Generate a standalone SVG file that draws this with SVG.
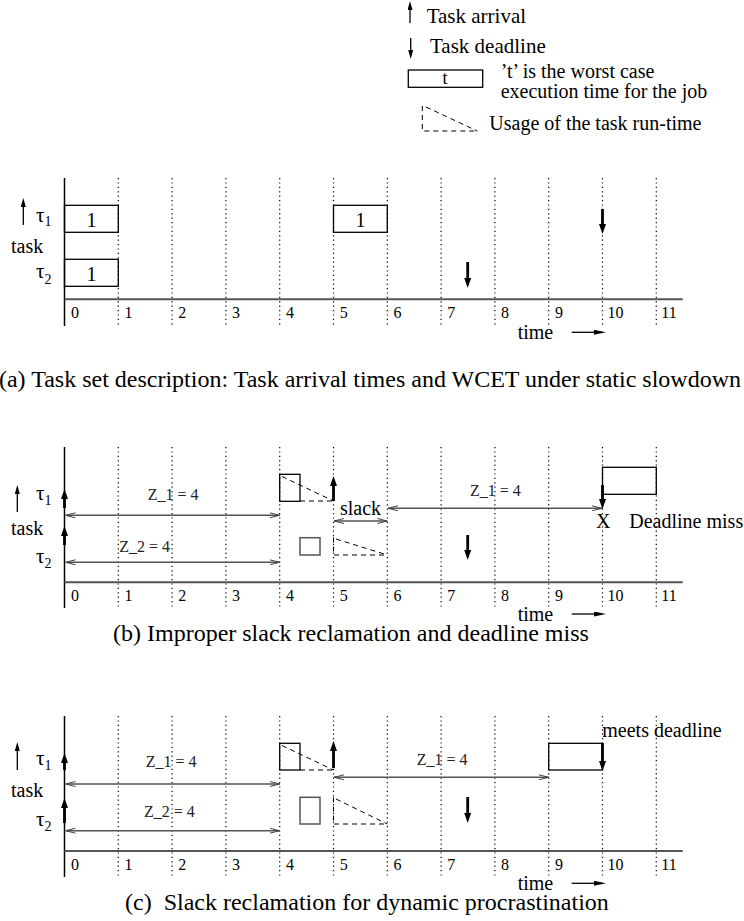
<svg xmlns="http://www.w3.org/2000/svg" width="744" height="921" viewBox="0 0 744 921">
<style>
text{font-family:"Liberation Serif","Times New Roman",serif;fill:#000}
.lg{font-size:21px}
.lg2{font-size:20px}
.cap{font-size:24px;white-space:pre}
.tick{font-size:16px}
.lbl{font-size:20px}
.z{font-size:16px;fill:#222}
.tau{font-size:21px}
.sub{font-size:14px}
.box{fill:none;stroke:#000;stroke-width:1.3}
.gbox{fill:none;stroke:#555;stroke-width:1.5}
.dash{fill:none;stroke:#000;stroke-width:1;stroke-dasharray:5,4}
.grid{stroke:#000;stroke-width:1.2;stroke-dasharray:1.2,3.2}
.yax{stroke:#000;stroke-width:1.5}
.xax{stroke:#555;stroke-width:2}
.big{stroke:#000;stroke-width:2.8;marker-end:url(#head)}
.thin{stroke:#000;stroke-width:1.3;marker-end:url(#headS)}
.tarr{stroke:#000;stroke-width:1.3;marker-end:url(#headT)}
.dbl{stroke:#555;stroke-width:1.5;marker-start:url(#open);marker-end:url(#open)}
</style>
<defs>
<marker id="head" markerUnits="userSpaceOnUse" viewBox="0 0 10 7" refX="3" refY="3.5" markerWidth="10" markerHeight="7" orient="auto"><path d="M0,0 L10,3.5 L0,7 z" fill="#000"/></marker>
<marker id="headS" markerUnits="userSpaceOnUse" viewBox="0 0 9 5" refX="3" refY="2.5" markerWidth="9" markerHeight="5" orient="auto"><path d="M0,0 L9,2.5 L0,5 z" fill="#000"/></marker>
<marker id="headT" markerUnits="userSpaceOnUse" viewBox="0 0 12 5" refX="3" refY="2.5" markerWidth="12" markerHeight="5" orient="auto"><path d="M0,0 L12,2.5 L0,5 z" fill="#000"/></marker>
<marker id="open" markerUnits="userSpaceOnUse" viewBox="0 0 10 6" refX="10" refY="3" markerWidth="10" markerHeight="6" orient="auto-start-reverse"><path d="M0,0.5 L10,3 L0,5.5" fill="none" stroke="#444" stroke-width="1"/></marker>
</defs>

<!-- Legend -->
<g id="legend">
  <g id="leg-arrival"><line class="thin" x1="410" y1="23" x2="410" y2="7"/><text class="lg" x="426.7" y="22.7">Task arrival</text></g>
  <g id="leg-deadline"><line class="thin" x1="410.7" y1="38" x2="410.7" y2="53"/><text class="lg" x="430" y="53.3">Task deadline</text></g>
  <g id="leg-wcet"><rect class="box" x="408.3" y="70" width="74.4" height="17.3"/><text class="lbl" x="445" y="84" text-anchor="middle" style="font-size:18px">t</text>
    <text class="lg2" x="500.7" y="77.7">’t’ is the worst case</text><text class="lg2" x="500.7" y="98.3">execution time for the job</text></g>
  <g id="leg-usage"><path class="dash" d="M422.3,106 L422.3,131 L477.3,131 M426,107 L477.3,131"/><text class="lg2" x="489.3" y="130">Usage of the task run-time</text></g>
</g>

<!-- Chart (a) -->
<g id="chart-a">
  <g id="a-axes">
    <line class="yax" x1="64.5" y1="178" x2="64.5" y2="326"/>
    <line class="xax" x1="64.5" y1="299.3" x2="682.7" y2="299.3"/>
    <g class="grid">
      <line x1="118.3" y1="178" x2="118.3" y2="325"/><line x1="172.1" y1="178" x2="172.1" y2="325"/><line x1="225.9" y1="178" x2="225.9" y2="325"/><line x1="279.7" y1="178" x2="279.7" y2="325"/><line x1="333.5" y1="178" x2="333.5" y2="325"/><line x1="387.3" y1="178" x2="387.3" y2="325"/><line x1="441.1" y1="178" x2="441.1" y2="325"/><line x1="494.9" y1="178" x2="494.9" y2="325"/><line x1="548.7" y1="178" x2="548.7" y2="325"/><line x1="602.5" y1="178" x2="602.5" y2="325"/><line x1="656.3" y1="178" x2="656.3" y2="325"/>
    </g>
    <g class="tick">
      <text x="71" y="318">0</text><text x="124.5" y="318">1</text><text x="178.3" y="318">2</text><text x="232.1" y="318">3</text><text x="285.9" y="318">4</text><text x="339.7" y="318">5</text><text x="393.5" y="318">6</text><text x="447.3" y="318">7</text><text x="501.1" y="318">8</text><text x="554.9" y="318">9</text><text x="607.5" y="318">10</text><text x="661.3" y="318">11</text>
    </g>
    <text class="lbl" x="517.7" y="339">time</text>
    <text class="lbl" x="11" y="252.7">task</text>
    <text class="tau" x="36" y="222">τ<tspan class="sub" dy="4">1</tspan></text>
    <text class="tau" x="36" y="278">τ<tspan class="sub" dy="6">2</tspan></text>
  </g>
  <g id="a-t1-job1"><rect class="box" x="64.5" y="205.3" width="53.8" height="27"/><text class="lbl" x="91.4" y="226.7" text-anchor="middle">1</text></g>
  <g id="a-t1-job2"><rect class="box" x="333.5" y="205.3" width="53.8" height="27"/><text class="lbl" x="360.4" y="226.7" text-anchor="middle">1</text></g>
  <g id="a-t2-job1"><rect class="box" x="64.5" y="259.3" width="53.8" height="27"/><text class="lbl" x="91.4" y="280.5" text-anchor="middle">1</text></g>
  <g id="a-connectors">
    <line class="thin" x1="23.3" y1="225" x2="23.3" y2="204"/>
    <line class="big" x1="602.5" y1="209" x2="602.5" y2="227"/>
    <line class="big" x1="467.7" y1="262" x2="467.7" y2="281"/>
    <line class="tarr" x1="571.7" y1="332.3" x2="597" y2="332.3"/>
  </g>
  <text class="cap" x="741" y="387" text-anchor="end">(a) Task set description: Task arrival times and WCET under static slowdown</text>
</g>

<!-- Chart (b) -->
<g id="chart-b">
  <g id="b-axes">
    <line class="yax" x1="64.5" y1="447" x2="64.5" y2="608"/>
    <line class="xax" x1="64.5" y1="582.3" x2="682.7" y2="582.3"/>
    <g class="grid">
      <line x1="118.3" y1="447" x2="118.3" y2="609"/><line x1="172.1" y1="447" x2="172.1" y2="609"/><line x1="225.9" y1="447" x2="225.9" y2="609"/><line x1="279.7" y1="447" x2="279.7" y2="609"/><line x1="333.5" y1="447" x2="333.5" y2="609"/><line x1="387.3" y1="447" x2="387.3" y2="609"/><line x1="441.1" y1="447" x2="441.1" y2="609"/><line x1="494.9" y1="447" x2="494.9" y2="609"/><line x1="548.7" y1="447" x2="548.7" y2="609"/><line x1="602.5" y1="447" x2="602.5" y2="609"/><line x1="656.3" y1="447" x2="656.3" y2="609"/>
    </g>
    <g class="tick">
      <text x="71" y="601">0</text><text x="124.5" y="601">1</text><text x="178.3" y="601">2</text><text x="232.1" y="601">3</text><text x="285.9" y="601">4</text><text x="339.7" y="601">5</text><text x="393.5" y="601">6</text><text x="447.3" y="601">7</text><text x="501.1" y="601">8</text><text x="554.9" y="601">9</text><text x="607.5" y="601">10</text><text x="661.3" y="601">11</text>
    </g>
    <text class="lbl" x="517.7" y="621">time</text>
    <text class="lbl" x="11" y="535">task</text>
    <text class="tau" x="36" y="500">τ<tspan class="sub" dy="5">1</tspan></text>
    <text class="tau" x="36" y="563">τ<tspan class="sub" dy="5">2</tspan></text>
  </g>
  <g id="b-t1-run"><rect class="box" x="279.7" y="474.3" width="20.3" height="27"/><path class="dash" d="M282,476.5 L333.5,501 M300,501 L333.5,501"/></g>
  <g id="b-t2-run"><rect class="gbox" x="300" y="537.7" width="20" height="17.3"/><path class="dash" d="M333.5,537.5 L333.5,555 L387.3,555 M336,539 L387.3,555"/></g>
  <g id="b-t1-late"><rect class="box" x="602.5" y="467.3" width="53.8" height="27"/></g>
  <g id="b-labels">
    <text class="z" x="147.7" y="500">Z_1 = 4</text>
    <text class="z" x="119.3" y="551.7">Z_2 = 4</text>
    <text class="z" x="470" y="496">Z_1 = 4</text>
    <text class="lbl" x="340" y="515">slack</text>
    <text class="lbl" x="596" y="527.7">X</text>
    <text class="lbl" x="629.3" y="527.7">Deadline miss</text>
  </g>
  <g id="b-connectors">
    <line class="thin" x1="17.3" y1="512" x2="17.3" y2="491"/>
    <line class="big" x1="64.5" y1="508" x2="64.5" y2="496"/>
    <line class="big" x1="64.5" y1="545" x2="64.5" y2="533"/>
    <line class="big" x1="333.5" y1="501" x2="333.5" y2="483"/>
    <line class="big" x1="602.5" y1="485" x2="602.5" y2="502"/>
    <line class="big" x1="467.7" y1="535" x2="467.7" y2="553"/>
    <line class="dbl" x1="65.5" y1="515.3" x2="279.7" y2="515.3"/>
    <line class="dbl" x1="65.5" y1="562.3" x2="279.7" y2="562.3"/>
    <line class="dbl" x1="334" y1="521" x2="387.3" y2="521"/>
    <line class="dbl" x1="388" y1="508.3" x2="602" y2="508.3"/>
    <line class="tarr" x1="571.7" y1="614" x2="597" y2="614"/>
  </g>
  <text class="cap" x="113" y="641">(b) Improper slack reclamation and deadline miss</text>
</g>

<!-- Chart (c) -->
<g id="chart-c">
  <g id="c-axes">
    <line class="yax" x1="64.5" y1="716" x2="64.5" y2="877"/>
    <line class="xax" x1="64.5" y1="851" x2="682.7" y2="851"/>
    <g class="grid">
      <line x1="118.3" y1="716" x2="118.3" y2="876"/><line x1="172.1" y1="716" x2="172.1" y2="876"/><line x1="225.9" y1="716" x2="225.9" y2="876"/><line x1="279.7" y1="716" x2="279.7" y2="876"/><line x1="333.5" y1="716" x2="333.5" y2="876"/><line x1="387.3" y1="716" x2="387.3" y2="876"/><line x1="441.1" y1="716" x2="441.1" y2="876"/><line x1="494.9" y1="716" x2="494.9" y2="876"/><line x1="548.7" y1="716" x2="548.7" y2="876"/><line x1="602.5" y1="716" x2="602.5" y2="876"/><line x1="656.3" y1="716" x2="656.3" y2="876"/>
    </g>
    <g class="tick">
      <text x="71" y="870">0</text><text x="124.5" y="870">1</text><text x="178.3" y="870">2</text><text x="232.1" y="870">3</text><text x="285.9" y="870">4</text><text x="339.7" y="870">5</text><text x="393.5" y="870">6</text><text x="447.3" y="870">7</text><text x="501.1" y="870">8</text><text x="554.9" y="870">9</text><text x="607.5" y="870">10</text><text x="661.3" y="870">11</text>
    </g>
    <text class="lbl" x="517.7" y="890">time</text>
    <text class="lbl" x="11" y="796.7">task</text>
    <text class="tau" x="36" y="765">τ<tspan class="sub" dy="5">1</tspan></text>
    <text class="tau" x="36" y="826">τ<tspan class="sub" dy="5">2</tspan></text>
  </g>
  <g id="c-t1-run"><rect class="box" x="279.7" y="743.3" width="20.3" height="26.7"/><path class="dash" d="M282,745.5 L333.5,770 M300,770 L333.5,770"/></g>
  <g id="c-t2-run"><rect class="gbox" x="300" y="797.3" width="20" height="26.7"/><path class="dash" d="M333.5,797.5 L333.5,824 L387.3,824 M336,799 L387.3,824"/></g>
  <g id="c-t1-ontime"><rect class="box" x="548.7" y="743.3" width="53.8" height="26.7"/></g>
  <g id="c-labels">
    <text class="z" x="145.7" y="767">Z_1 = 4</text>
    <text class="z" x="144" y="816.7">Z_2 = 4</text>
    <text class="z" x="416.7" y="765">Z_1 = 4</text>
    <text class="lbl" x="602.3" y="736.7">meets deadline</text>
  </g>
  <g id="c-connectors">
    <line class="thin" x1="17.3" y1="770" x2="17.3" y2="748"/>
    <line class="big" x1="64.5" y1="770" x2="64.5" y2="760"/>
    <line class="big" x1="64.5" y1="823" x2="64.5" y2="805"/>
    <line class="big" x1="333.5" y1="768" x2="333.5" y2="748"/>
    <line class="big" x1="602.5" y1="743" x2="602.5" y2="764"/>
    <line class="big" x1="467.7" y1="797" x2="467.7" y2="816"/>
    <line class="dbl" x1="65.5" y1="784" x2="279.7" y2="784"/>
    <line class="dbl" x1="65.5" y1="830.7" x2="279.7" y2="830.7"/>
    <line class="dbl" x1="334" y1="777.3" x2="548.7" y2="777.3"/>
    <line class="tarr" x1="571.7" y1="883.3" x2="597" y2="883.3"/>
  </g>
  <text class="cap" x="125" y="910">(c)  Slack reclamation for dynamic procrastination</text>
</g>
</svg>
